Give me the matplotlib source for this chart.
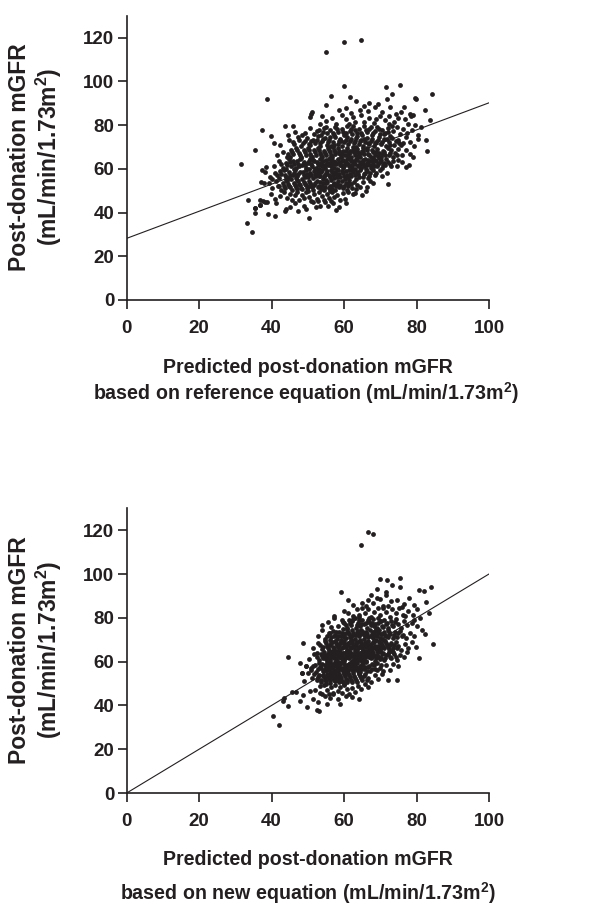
import matplotlib
matplotlib.use('Agg')
import matplotlib.pyplot as plt

# measured vs predicted post-donation mGFR, reference equation (top panel)
top_sparse = [
    (31.5, 62.0), (33.1, 35.4), (34.5, 30.9), (33.5, 45.7), (35.5, 68.6), (38.7, 91.8),
    (37.3, 77.9), (39.8, 75.0), (40.7, 72.0), (43.7, 79.7), (46.0, 79.6), (44.6, 75.3),
    (55.1, 113.4), (59.9, 118.0), (64.6, 119.1), (59.9, 97.9), (56.3, 93.5), (61.5, 93.0),
    (71.6, 97.3), (75.3, 98.2), (79.6, 92.6), (79.8, 91.9), (84.4, 94.2), (82.4, 87.1),
    (83.7, 82.3), (82.6, 73.2), (82.9, 68.3), (78.0, 61.9), (72.1, 53.2), (57.7, 41.0),
    (50.2, 37.5), (40.9, 38.3), (39.0, 39.3), (35.5, 39.6), (43.7, 40.9), (35.3, 42.0),
    (36.8, 43.6), (37.5, 45.2), (38.2, 45.0), (73.3, 94.2), (71.8, 91.9), (51.1, 86.0),
    (50.7, 83.6), (55.0, 89.3),
]
top_upper = [
    (58.5, 86.9), (60.6, 87.6), (62.0, 85.6), (64.3, 86.8), (66.5, 86.4), (67.0, 90.3),
    (68.6, 88.3), (69.4, 89.5), (70.5, 86.1), (72.7, 88.4), (74.2, 85.3), (76.5, 88.3),
    (78.1, 85.0), (79.1, 84.6), (75.6, 85.9), (63.4, 91.0), (65.5, 88.9),
    (50.9, 84.9), (53.4, 80.4), (55.1, 82.1), (56.7, 83.2), (57.9, 80.3), (59.3, 84.6),
    (60.6, 82.8), (61.3, 80.6), (63.1, 81.5), (64.8, 84.4), (65.6, 81.6), (66.9, 83.1),
    (68.2, 80.9), (68.8, 83.0), (69.9, 84.1), (71.2, 82.4), (72.4, 84.3), (72.3, 80.3),
    (73.9, 81.6), (74.8, 83.1), (76.7, 82.7), (77.7, 80.5), (78.5, 84.3), (79.6, 80.0),
    (62.4, 83.6), (54.0, 84.1),
    (48.3, 75.5), (49.2, 76.3), (50.5, 78.6), (51.6, 75.9), (52.6, 77.2), (53.5, 75.4),
    (54.5, 78.7), (55.4, 76.4), (56.1, 77.8), (57.1, 75.6), (57.5, 79.1), (58.4, 76.9),
    (59.3, 78.2), (60.1, 75.4), (60.8, 79.4), (61.5, 77.3), (62.1, 75.9), (62.6, 79.6),
    (63.5, 76.2), (64.2, 78.0), (64.9, 75.3), (65.5, 79.5), (66.2, 76.8), (67.0, 78.4),
    (67.6, 75.7), (68.5, 77.4), (69.2, 79.3), (69.9, 75.9), (70.6, 77.8), (71.4, 76.3),
    (72.2, 78.9), (72.8, 75.2), (73.6, 77.3), (74.6, 79.1), (75.4, 76.0), (76.2, 78.2),
    (77.5, 76.4), (78.8, 77.7), (80.3, 75.6), (81.2, 79.0), (46.4, 77.0),
]
top_core = [
    (42.3, 70.8), (44.9, 73.1), (46.3, 71.2), (47.4, 74.5), (48.1, 70.4), (49.1, 72.8),
    (49.9, 74.2), (50.6, 70.9), (51.3, 73.4), (52.0, 71.6), (52.7, 74.8), (53.3, 70.3),
    (53.8, 72.6), (54.6, 74.0), (55.2, 71.1), (55.9, 73.3), (56.5, 70.4), (57.0, 72.4),
    (57.6, 74.6), (58.2, 71.4), (58.9, 73.6), (59.5, 70.6), (60.1, 72.3), (60.7, 74.4),
    (61.2, 71.3), (61.9, 73.5), (62.4, 70.2), (63.0, 72.7), (63.6, 74.8), (64.1, 71.5),
    (64.7, 73.4), (65.3, 70.6), (65.9, 72.4), (66.4, 74.3), (67.0, 71.2), (67.7, 73.7),
    (68.3, 70.5), (68.9, 72.5), (69.6, 74.6), (70.2, 71.4), (70.9, 73.5), (71.6, 70.3),
    (72.3, 72.4), (73.1, 74.1), (73.9, 71.1), (74.8, 73.2), (75.8, 70.7), (76.4, 71.6),
    (77.2, 74.6), (78.3, 72.1), (79.4, 70.4), (80.5, 73.8),
    (41.6, 66.1), (43.2, 67.9), (44.2, 65.5), (45.3, 68.7), (46.0, 66.6), (46.8, 69.5),
    (47.5, 67.2), (48.2, 65.3), (48.8, 68.4), (49.4, 66.5), (50.0, 69.7), (50.6, 67.0),
    (51.1, 65.2), (51.7, 68.6), (52.3, 66.3), (52.8, 69.4), (53.4, 67.1), (53.9, 65.6),
    (54.5, 68.3), (55.0, 66.4), (55.5, 69.6), (56.0, 67.5), (56.6, 65.4), (57.1, 68.8),
    (57.6, 66.6), (58.2, 69.3), (58.7, 67.3), (59.2, 65.3), (59.8, 68.1), (60.3, 66.4),
    (60.8, 69.6), (61.3, 67.2), (61.9, 65.5), (62.4, 68.7), (62.9, 66.3), (63.5, 69.2),
    (64.0, 67.4), (64.5, 65.2), (65.1, 68.3), (65.6, 66.6), (66.2, 69.5), (66.7, 67.0),
    (67.3, 65.4), (67.8, 68.6), (68.4, 66.5), (69.0, 69.1), (69.6, 67.3), (70.2, 65.6),
    (70.8, 68.2), (71.4, 66.4), (72.0, 69.4), (72.7, 67.2), (73.5, 65.5), (74.1, 67.1),
    (74.9, 69.0), (75.9, 66.3), (77.0, 68.4), (78.2, 66.8), (79.0, 65.3), (45.0, 65.2),
    (56.9, 70.0), (63.2, 70.0), (68.1, 65.0),
    (38.5, 61.0), (40.7, 61.4), (42.0, 63.4), (43.1, 60.6), (43.9, 62.6), (44.7, 64.4),
    (45.4, 61.3), (46.0, 63.5), (46.7, 60.4), (47.3, 62.4), (47.9, 64.6), (48.5, 61.6),
    (49.0, 63.3), (49.6, 60.5), (50.1, 62.8), (50.7, 64.7), (51.2, 61.2), (51.7, 63.6),
    (52.2, 60.3), (52.8, 62.2), (53.3, 64.3), (53.8, 61.5), (54.3, 63.4), (54.8, 60.6),
    (55.3, 62.6), (55.8, 64.5), (56.3, 61.3), (56.8, 63.2), (57.3, 60.2), (57.8, 62.4),
    (58.3, 64.6), (58.8, 61.6), (59.3, 63.5), (59.8, 60.4), (60.3, 62.3), (60.8, 64.3),
    (61.3, 61.1), (61.8, 63.6), (62.3, 60.5), (62.8, 62.5), (63.3, 64.5), (63.8, 61.4),
    (64.3, 63.1), (64.8, 60.3), (65.3, 62.7), (65.9, 64.6), (66.4, 61.6), (66.9, 63.4),
    (67.5, 60.5), (68.0, 62.3), (68.6, 64.2), (69.2, 61.2), (69.8, 63.3), (70.4, 60.6),
    (71.0, 62.6), (71.3, 61.7), (71.7, 64.7), (72.6, 62.0), (73.5, 63.8), (74.7, 61.4),
    (75.0, 64.0), (76.1, 62.9), (77.2, 60.7), (44.0, 60.0), (50.4, 60.0), (56.0, 65.0),
    (61.0, 65.0), (66.0, 60.0), (69.6, 64.9), (48.0, 64.9), (53.0, 60.0),
]
top_dense = [
    (53.0, 77.9), (54.2, 76.9), (55.0, 79.3), (56.9, 76.2), (58.0, 78.1), (59.6, 77.0),
    (60.5, 76.3), (62.0, 78.4), (63.0, 77.6), (64.6, 76.6), (66.0, 77.9), (67.3, 79.1),
    (68.0, 76.3), (69.6, 78.1), (71.0, 75.8), (72.0, 77.0), (73.2, 79.5),
    (46.0, 72.4), (47.5, 73.0), (48.6, 71.9), (50.3, 71.5), (51.0, 72.9), (52.4, 73.0),
    (53.4, 71.8), (54.1, 73.7), (55.6, 72.2), (56.2, 74.4), (57.3, 71.0), (58.5, 72.6),
    (59.2, 72.9), (60.4, 73.4), (61.6, 72.6), (62.7, 71.6), (63.3, 73.9), (64.4, 72.6),
    (65.6, 73.8), (66.6, 72.0), (67.3, 72.9), (68.6, 71.9), (69.3, 73.4), (70.6, 72.4),
    (71.9, 73.6), (72.8, 71.0), (74.2, 72.6), (75.2, 72.0),
    (44.5, 66.9), (45.7, 67.8), (47.1, 68.6), (47.9, 66.2), (49.1, 67.6), (50.3, 68.4),
    (50.9, 66.0), (52.0, 67.6), (53.1, 68.6), (53.6, 66.2), (54.8, 67.2), (55.8, 68.4),
    (56.3, 66.5), (57.4, 67.7), (58.5, 68.2), (59.0, 66.6), (59.5, 67.0), (60.5, 68.1),
    (61.1, 66.2), (61.6, 68.3), (62.7, 67.6), (63.2, 67.9), (63.8, 66.0), (64.8, 67.3),
    (65.3, 69.4), (66.4, 68.4), (67.0, 66.2), (68.0, 67.6), (68.7, 67.8), (69.3, 66.0),
    (70.5, 67.0), (71.1, 67.9), (72.3, 66.4), (73.0, 68.4), (74.5, 66.1),
    (42.6, 62.0), (44.3, 61.6), (45.0, 63.0), (46.3, 62.2), (47.0, 63.4), (47.6, 61.2),
    (48.8, 62.6), (49.3, 61.8), (50.4, 63.6), (51.0, 62.0), (51.5, 64.1), (52.5, 63.3),
    (53.0, 61.7), (53.6, 62.8), (54.6, 61.9), (55.0, 64.0), (55.6, 61.6), (56.0, 62.6),
    (56.6, 64.0), (57.1, 62.0), (57.6, 63.3), (58.6, 62.9), (59.1, 61.8), (59.6, 64.2),
    (60.0, 61.3), (60.6, 63.2), (61.1, 62.3), (61.6, 64.7), (62.1, 61.7), (62.6, 63.6),
    (63.1, 62.4), (63.6, 64.0), (64.1, 61.9), (64.6, 62.4), (65.1, 64.0), (65.6, 61.5),
    (66.2, 62.6), (66.7, 64.2), (67.2, 61.8), (67.8, 63.5), (68.3, 61.4), (68.9, 63.4),
    (69.5, 62.3), (70.2, 64.0), (70.7, 61.7), (72.0, 63.2), (73.0, 61.4),
    (41.5, 57.0), (42.2, 58.8), (43.6, 57.4), (44.4, 55.6), (45.0, 57.3), (46.2, 58.0),
    (46.8, 55.9), (47.4, 57.5), (48.6, 58.7), (49.2, 56.3), (49.8, 57.8), (51.0, 57.4),
    (51.6, 59.1), (52.2, 56.6), (52.8, 58.0), (53.3, 56.6), (54.0, 59.3), (54.5, 56.5),
    (55.1, 58.3), (55.7, 57.0), (56.3, 59.4), (56.9, 57.0), (57.5, 58.4), (58.1, 56.1),
    (58.7, 57.8), (59.3, 59.1), (59.9, 56.9), (60.5, 58.8), (61.1, 56.2), (61.7, 57.8),
    (62.3, 59.4), (63.0, 57.3), (63.5, 58.6), (64.2, 56.4), (65.4, 57.6), (66.2, 58.9),
    (67.0, 56.6), (68.8, 58.2),
    (42.1, 52.0), (43.4, 52.2), (44.6, 53.2), (45.2, 51.6), (46.4, 52.5), (47.0, 50.8),
    (47.6, 53.2), (48.2, 51.4), (48.8, 54.0), (49.4, 52.4), (50.0, 51.8), (50.6, 53.6),
    (51.2, 51.5), (51.8, 52.6), (52.4, 54.4), (53.0, 52.3), (53.6, 50.9), (54.2, 53.3),
    (54.8, 51.8), (55.4, 54.2), (56.0, 52.0), (56.6, 51.0), (57.2, 53.6), (57.8, 52.0),
    (58.4, 54.6), (59.0, 52.6), (59.8, 51.3), (60.4, 53.6), (61.0, 52.0), (62.0, 53.2),
    (63.2, 51.0),
]
top_lower = [
    (37.4, 59.5), (38.2, 58.7), (39.6, 56.4), (41.0, 58.1), (41.9, 55.8), (42.6, 57.6),
    (43.3, 59.4), (44.0, 56.3), (44.7, 58.5), (45.3, 55.5), (45.9, 57.4), (46.5, 59.6),
    (47.1, 56.6), (47.7, 58.7), (48.3, 55.3), (48.9, 57.2), (49.5, 59.3), (50.1, 56.1),
    (50.7, 58.3), (51.3, 55.7), (51.9, 57.7), (52.5, 59.6), (53.0, 56.5), (53.6, 58.4),
    (54.2, 55.4), (54.8, 57.1), (55.4, 59.2), (56.0, 56.2), (56.6, 58.6), (57.2, 55.6),
    (57.8, 57.5), (58.4, 59.5), (59.0, 56.4), (59.6, 58.2), (60.2, 55.2), (60.8, 57.3),
    (61.4, 59.4), (62.0, 56.7), (62.6, 58.5), (63.2, 55.5), (63.8, 57.6), (64.5, 59.3),
    (65.1, 56.3), (65.8, 58.1), (66.5, 55.8), (67.2, 57.9), (68.0, 59.6), (68.5, 57.2),
    (69.9, 59.5), (70.6, 56.9), (71.8, 58.2), (40.0, 55.2), (46.2, 60.0), (52.0, 60.0),
    (58.0, 60.0), (63.0, 60.0), (55.0, 55.0), (61.3, 55.0), (47.0, 55.0),
    (37.1, 54.1), (38.0, 53.6), (39.4, 53.7), (40.2, 51.2), (41.1, 54.4), (41.8, 52.3),
    (42.5, 50.5), (43.1, 53.3), (43.7, 51.4), (44.3, 54.6), (44.9, 52.2), (45.5, 50.4),
    (46.1, 53.5), (46.7, 51.6), (47.3, 54.3), (47.9, 52.4), (48.5, 50.6), (49.1, 53.1),
    (49.7, 51.1), (50.3, 54.5), (50.9, 52.6), (51.5, 50.3), (52.1, 53.7), (52.7, 51.5),
    (53.3, 54.2), (53.9, 52.0), (54.5, 50.5), (55.1, 53.4), (55.7, 51.3), (56.3, 54.7),
    (56.9, 52.5), (57.5, 50.2), (58.1, 53.2), (58.7, 51.6), (59.3, 54.3), (60.0, 52.3),
    (60.7, 50.5), (61.4, 53.6), (62.1, 51.4), (62.8, 54.1), (63.6, 52.5), (64.4, 51.8),
    (65.2, 53.9), (66.2, 51.8), (67.1, 54.6), (68.1, 53.7), (44.0, 55.0), (50.0, 50.0),
    (56.0, 50.0),
    (36.8, 45.7), (38.6, 45.0), (41.0, 46.2), (42.3, 47.6), (43.4, 49.4), (44.2, 46.8),
    (45.0, 48.7), (45.7, 45.6), (46.4, 47.9), (47.1, 49.6), (47.6, 45.7), (48.3, 48.1),
    (49.0, 46.5), (49.6, 49.3), (50.3, 47.2), (51.0, 45.3), (51.7, 48.6), (52.4, 46.4),
    (53.1, 49.5), (53.8, 47.6), (54.5, 45.8), (55.2, 48.4), (55.9, 46.7), (56.6, 49.4),
    (57.3, 47.3), (58.1, 48.0), (58.8, 45.6), (59.6, 48.9), (60.3, 46.2), (61.2, 49.2),
    (62.4, 48.3), (63.0, 49.1), (64.9, 48.0), (66.1, 49.7), (39.8, 48.6), (52.7, 45.2),
    (56.5, 45.1),
    (35.3, 42.0), (36.8, 43.6), (41.1, 44.2), (43.9, 41.5), (45.1, 42.7), (46.5, 44.4),
    (48.8, 43.1), (49.5, 41.5), (51.5, 45.0), (52.3, 42.6), (53.4, 43.1), (54.6, 44.6),
    (55.5, 43.1), (57.0, 44.2), (58.6, 42.4), (60.5, 44.3), (47.3, 40.5),
]

# measured vs predicted post-donation mGFR, new equation (bottom panel)
bottom_sparse = [
    (40.5, 35.3), (42.1, 31.1), (43.1, 41.9), (43.5, 43.2), (44.4, 39.6), (45.6, 46.0),
    (46.7, 46.0), (44.5, 62.1), (48.6, 68.5), (47.8, 59.4), (49.6, 58.0), (48.3, 54.8),
    (49.0, 51.0), (49.7, 39.3), (47.8, 41.9), (48.7, 44.9), (52.4, 38.1), (53.1, 37.6),
    (59.0, 40.8), (64.1, 43.1), (59.1, 91.7), (61.2, 87.9), (64.6, 113.3), (66.7, 119.1),
    (68.0, 118.2), (69.9, 97.8), (71.9, 97.3), (75.4, 98.2), (73.2, 94.9), (75.3, 94.1),
    (69.0, 93.2), (71.6, 91.7), (80.8, 92.9), (82.1, 92.1), (84.0, 94.1), (82.5, 87.3),
    (83.4, 82.2), (81.0, 79.9), (82.4, 72.8), (84.6, 68.2), (81.6, 74.6), (80.8, 61.7),
    (79.9, 66.7), (78.7, 68.8), (78.0, 89.1), (57.3, 79.8), (74.5, 51.8), (72.2, 51.8),
    (50.5, 46.8), (51.5, 43.0),
]
bottom_upper = [
    (62.6, 85.8), (64.9, 86.8), (66.1, 85.3), (66.7, 88.3), (67.3, 90.2), (68.1, 86.8),
    (69.0, 89.1), (70.0, 88.6), (70.8, 85.5), (72.2, 85.3), (73.0, 87.5), (74.5, 88.3),
    (75.9, 85.0), (76.6, 86.5), (79.3, 85.7), (71.5, 90.5),
    (57.2, 80.7), (59.9, 83.0), (61.2, 82.2), (62.6, 80.7), (63.5, 83.8), (64.2, 81.5),
    (65.0, 84.5), (65.9, 82.0), (66.6, 83.8), (67.5, 80.5), (68.3, 82.6), (69.3, 84.6),
    (70.0, 81.3), (70.8, 84.5), (71.6, 82.7), (72.6, 80.4), (73.2, 83.8), (74.3, 82.0),
    (75.1, 84.4), (76.2, 81.1), (76.8, 80.7), (77.6, 83.0), (78.9, 81.5), (80.2, 84.0),
    (64.1, 80.2), (69.5, 80.1),
    (54.0, 76.6), (55.5, 78.2), (56.4, 75.8), (58.4, 76.2), (59.3, 79.2), (60.1, 77.4),
    (60.8, 75.5), (61.4, 78.9), (62.0, 76.6), (62.6, 79.5), (63.2, 75.3), (63.8, 77.8),
    (64.4, 76.1), (65.0, 79.2), (65.6, 77.0), (66.2, 75.4), (66.8, 78.3), (67.4, 76.5),
    (68.0, 79.6), (68.6, 77.2), (69.2, 75.5), (69.8, 78.5), (70.4, 76.4), (71.0, 79.1),
    (71.6, 77.1), (72.2, 75.3), (72.9, 78.4), (73.6, 76.4), (74.3, 79.4), (75.0, 77.1),
    (75.8, 75.5), (76.6, 78.4), (77.5, 76.6), (78.7, 77.7), (80.0, 76.1), (79.2, 79.2),
    (67.0, 80.0), (62.9, 80.0),
]
bottom_core = [
    (52.7, 71.8), (54.0, 74.6), (54.7, 70.5), (55.7, 73.1), (56.4, 71.2), (57.0, 74.2),
    (57.6, 72.3), (58.1, 70.4), (58.6, 73.6), (59.1, 71.6), (59.6, 74.7), (60.1, 72.5),
    (60.6, 70.6), (61.1, 73.5), (61.6, 71.4), (62.1, 74.4), (62.6, 72.2), (63.1, 70.3),
    (63.6, 73.7), (64.1, 71.7), (64.6, 74.6), (65.1, 72.6), (65.6, 70.5), (66.1, 73.4),
    (66.6, 71.3), (67.1, 74.3), (67.6, 72.4), (68.1, 70.7), (68.6, 73.8), (69.1, 71.8),
    (69.6, 74.5), (70.1, 72.5), (70.6, 70.4), (71.1, 73.6), (71.6, 71.6), (72.2, 74.4),
    (72.8, 72.6), (73.4, 70.8), (74.0, 73.5), (74.7, 71.4), (75.4, 74.2), (76.2, 72.3),
    (77.1, 70.6), (78.2, 73.2), (79.4, 71.5), (64.4, 70.0), (60.9, 75.0), (68.9, 75.0),
    (56.0, 70.0),
    (51.5, 66.3), (52.9, 68.4), (53.8, 65.6), (54.6, 69.2), (55.3, 67.1), (55.9, 65.3),
    (56.5, 68.6), (57.0, 66.6), (57.5, 69.5), (58.0, 67.4), (58.5, 65.4), (59.0, 68.3),
    (59.4, 66.2), (59.9, 69.6), (60.3, 67.6), (60.8, 65.3), (61.2, 68.7), (61.7, 66.5),
    (62.1, 69.3), (62.5, 67.2), (63.0, 65.5), (63.4, 68.5), (63.9, 66.4), (64.3, 69.6),
    (64.8, 67.4), (65.2, 65.2), (65.7, 68.2), (66.1, 66.7), (66.6, 69.4), (67.0, 67.6),
    (67.5, 65.6), (67.9, 68.8), (68.4, 66.3), (68.8, 69.7), (69.3, 67.2), (69.8, 65.4),
    (70.3, 68.5), (70.8, 66.6), (71.3, 69.3), (71.8, 67.4), (72.4, 65.7), (73.0, 68.4),
    (73.6, 66.3), (74.3, 69.1), (75.0, 67.1), (75.8, 65.5), (76.7, 68.0), (77.6, 66.2),
    (59.2, 70.0), (62.0, 70.0), (66.0, 65.0), (69.0, 65.0), (63.5, 65.0), (57.8, 65.0),
    (73.3, 65.0), (71.0, 70.0),
    (50.4, 61.3), (51.8, 63.5), (52.4, 64.0), (53.2, 60.8), (53.9, 62.7), (54.5, 64.5),
    (55.0, 61.4), (55.5, 63.3), (56.0, 60.3), (56.4, 62.5), (56.8, 64.6), (57.3, 61.6),
    (57.7, 63.4), (58.1, 60.5), (58.5, 62.3), (58.9, 64.4), (59.3, 61.2), (59.7, 63.7),
    (60.1, 60.4), (60.5, 62.6), (60.9, 64.7), (61.3, 61.5), (61.7, 63.3), (62.1, 60.2),
    (62.5, 62.4), (62.9, 64.5), (63.3, 61.3), (63.7, 63.5), (64.1, 60.6), (64.5, 62.5),
    (64.9, 64.3), (65.3, 61.1), (65.7, 63.4), (66.1, 60.5), (66.5, 62.7), (67.0, 64.6),
    (67.4, 61.6), (67.9, 63.2), (68.4, 60.3), (68.9, 62.6), (69.4, 64.4), (69.9, 61.4),
    (70.4, 63.6), (71.0, 60.7), (71.6, 62.9), (72.3, 64.3), (73.0, 61.5), (73.8, 63.4),
    (74.6, 60.8), (75.4, 63.2), (76.5, 61.9), (77.4, 64.5), (57.0, 65.0), (61.0, 65.0),
    (65.0, 60.0), (59.5, 60.0), (63.0, 60.0), (67.8, 65.0), (55.3, 60.0), (70.0, 65.0),
]
bottom_dense = [
    (59.6, 77.9), (60.5, 76.6), (61.6, 77.5), (62.3, 78.6), (63.5, 76.8), (64.1, 78.9),
    (64.8, 77.0), (66.0, 77.6), (66.5, 79.0), (67.6, 77.8), (68.3, 76.1), (69.4, 77.4),
    (70.1, 78.6), (70.7, 75.9), (71.9, 77.6), (73.2, 76.9), (74.0, 78.1),
    (55.3, 71.6), (56.0, 72.9), (57.2, 71.5), (57.9, 73.3), (58.4, 71.8), (59.3, 72.9),
    (59.9, 71.2), (60.4, 73.1), (61.3, 72.4), (61.9, 71.3), (62.4, 73.0), (63.3, 72.0),
    (63.9, 74.2), (64.4, 72.4), (65.3, 73.6), (65.9, 71.6), (66.4, 72.6), (67.3, 71.7),
    (67.9, 73.4), (68.4, 72.0), (69.3, 73.1), (69.9, 70.9), (70.4, 72.6), (71.4, 72.3),
    (72.0, 71.2), (72.5, 73.4), (73.7, 72.0), (74.8, 73.0), (75.9, 71.6),
    (53.3, 67.4), (54.2, 66.6), (55.0, 68.3), (55.6, 66.1), (56.2, 67.4), (56.8, 69.0),
    (57.3, 66.3), (57.8, 68.4), (58.2, 66.6), (58.7, 67.8), (59.2, 68.9), (59.7, 66.5),
    (60.1, 68.2), (60.6, 66.6), (61.0, 67.9), (61.5, 69.0), (61.9, 66.2), (62.3, 68.3),
    (62.8, 66.6), (63.2, 67.7), (63.7, 69.0), (64.1, 66.6), (64.6, 68.3), (65.0, 66.3),
    (65.5, 67.4), (65.9, 69.0), (66.4, 67.6), (66.8, 65.9), (67.3, 68.2), (67.7, 66.8),
    (68.2, 68.9), (68.6, 67.0), (69.1, 65.6), (69.6, 68.8), (70.0, 66.3), (70.6, 67.6),
    (71.1, 66.1), (71.6, 68.4), (72.2, 66.6), (72.7, 67.6), (73.8, 67.6), (74.6, 66.0),
    (52.6, 62.0), (53.6, 63.6), (54.2, 61.6), (54.8, 63.0), (55.3, 62.0), (55.8, 64.2),
    (56.2, 61.4), (56.6, 63.3), (57.0, 62.4), (57.5, 64.2), (57.9, 61.6), (58.3, 63.4),
    (58.7, 61.9), (59.1, 63.2), (59.5, 62.2), (59.9, 64.0), (60.3, 61.6), (60.7, 63.6),
    (61.1, 62.0), (61.5, 64.2), (61.9, 62.4), (62.3, 63.6), (62.7, 61.4), (63.1, 62.8),
    (63.5, 64.0), (63.9, 61.9), (64.3, 63.4), (64.7, 61.6), (65.1, 62.8), (65.5, 64.4),
    (65.9, 62.2), (66.3, 63.7), (66.8, 61.9), (67.2, 63.2), (67.7, 62.2), (68.1, 64.0),
    (68.7, 61.8), (69.2, 63.0), (69.7, 62.2), (70.2, 61.7), (70.7, 64.1), (71.3, 61.7),
    (72.0, 63.3), (72.6, 61.9), (73.4, 64.4), (74.2, 62.0),
    (51.0, 57.2), (52.0, 58.4), (52.7, 56.4), (53.3, 57.7), (54.0, 58.9), (54.4, 56.3),
    (54.9, 57.7), (55.4, 56.0), (55.8, 58.5), (56.2, 56.8), (56.6, 59.0), (57.0, 57.6),
    (57.4, 55.9), (57.8, 58.4), (58.2, 56.5), (58.6, 57.6), (59.0, 59.5), (59.4, 57.2),
    (59.8, 55.8), (60.2, 58.6), (60.6, 56.6), (61.0, 57.8), (61.4, 59.0), (61.8, 56.4),
    (62.2, 58.0), (62.6, 56.8), (63.0, 59.2), (63.4, 57.6), (63.8, 55.8), (64.3, 58.2),
    (64.8, 56.6), (65.3, 59.2), (65.8, 57.4), (66.3, 55.9), (67.0, 58.0), (67.6, 56.6),
    (68.3, 58.4), (69.0, 56.0), (70.3, 58.6),
    (51.8, 54.2), (52.9, 52.8), (53.5, 51.8), (54.1, 54.0), (54.6, 52.5), (55.1, 51.1),
    (55.6, 53.3), (56.0, 51.8), (56.5, 54.4), (56.9, 52.7), (57.4, 51.2), (57.8, 53.6),
    (58.3, 51.6), (58.7, 54.4), (59.2, 52.6), (59.7, 50.6), (60.2, 53.4), (60.7, 51.8),
    (61.2, 54.6), (61.7, 52.8), (62.2, 50.9), (62.8, 53.6), (63.4, 51.6), (64.0, 54.3),
    (64.6, 52.6), (65.4, 53.2), (66.3, 51.4),
]
bottom_lower = [
    (49.6, 58.0), (50.8, 56.2), (51.5, 57.9), (52.3, 55.4), (53.0, 59.3), (53.6, 57.1),
    (54.1, 55.5), (54.6, 58.6), (55.1, 56.5), (55.6, 59.5), (56.0, 57.4), (56.4, 55.3),
    (56.8, 58.3), (57.2, 56.2), (57.6, 59.6), (58.0, 57.5), (58.4, 55.6), (58.8, 58.7),
    (59.2, 56.6), (59.6, 59.4), (60.0, 57.3), (60.4, 55.2), (60.8, 58.4), (61.2, 56.3),
    (61.6, 59.5), (62.0, 57.6), (62.4, 55.5), (62.8, 58.6), (63.2, 56.4), (63.6, 59.3),
    (64.0, 57.2), (64.5, 55.4), (65.0, 58.5), (65.5, 56.6), (66.0, 59.6), (66.6, 57.5),
    (67.2, 55.7), (67.8, 58.8), (68.5, 56.4), (69.2, 59.2), (70.0, 57.3), (70.8, 55.6),
    (71.6, 58.6), (72.7, 56.3), (73.6, 59.1), (75.0, 57.9), (58.2, 60.0), (62.3, 60.0),
    (56.0, 55.0), (60.0, 55.0), (64.0, 55.0),
    (48.3, 54.8), (50.1, 54.8), (51.2, 52.6), (52.4, 51.8), (53.1, 54.1), (53.7, 50.5),
    (54.3, 53.2), (54.8, 51.4), (55.3, 54.5), (55.8, 52.3), (56.2, 50.4), (56.7, 53.6),
    (57.1, 51.7), (57.6, 54.7), (58.0, 52.5), (58.5, 50.6), (58.9, 53.4), (59.4, 51.3),
    (59.9, 54.3), (60.4, 52.2), (60.9, 50.5), (61.4, 53.7), (61.9, 51.6), (62.5, 54.6),
    (63.1, 52.4), (63.7, 50.8), (64.3, 53.5), (65.0, 51.7), (65.8, 54.2), (66.6, 52.6),
    (67.5, 50.9), (68.4, 53.8), (69.5, 52.1), (70.6, 54.4), (55.0, 50.0), (60.0, 50.0),
    (57.0, 55.0),
    (52.0, 47.2), (53.4, 48.7), (53.4, 45.7), (54.5, 49.5), (55.2, 47.0), (55.9, 45.4),
    (56.5, 48.3), (57.0, 45.7), (57.6, 49.2), (58.2, 46.6), (58.8, 48.5), (59.4, 45.6),
    (60.0, 49.4), (60.7, 47.5), (61.4, 45.3), (62.1, 48.1), (62.9, 46.3), (63.8, 49.0),
    (64.8, 47.4), (65.7, 49.6), (66.6, 48.3), (54.0, 45.1),
    (54.7, 44.2), (56.1, 43.4), (57.0, 45.0), (52.9, 41.5), (55.3, 40.6), (58.2, 42.8),
    (60.4, 44.1), (62.3, 43.7),
]

top_fit = [28.2, 0.62]      # intercept, slope of the regression line
bottom_fit = [0.0, 1.0]     # line of identity
x_ticks = [0, 20, 40, 60, 80, 100]
y_ticks = [0, 20, 40, 60, 80, 100, 120]

y_title = ['Post-donation mGFR', r'(mL/min/1.73m$^{2}$)']
top_xtitle = ['Predicted post-donation mGFR',
              r'based on reference equation (mL/min/1.73m$^{2}$)']
bottom_xtitle = ['Predicted post-donation mGFR',
                 r'based on new equation (mL/min/1.73m$^{2}$)']

plt.rcParams['font.family'] = ['Liberation Sans', 'DejaVu Sans']
plt.rcParams['font.weight'] = 'bold'
plt.rcParams['mathtext.fontset'] = 'custom'
plt.rcParams['mathtext.rm'] = 'Liberation Sans:bold'
plt.rcParams['mathtext.bf'] = 'Liberation Sans:bold'
plt.rcParams['mathtext.default'] = 'bf'

INK = '#231f20'
W, H = 616, 906
fig = plt.figure(figsize=(W / 100, H / 100), dpi=100)
ax_top = fig.add_axes([126.7 / W, 1 - 300 / H, 362.3 / W, 284.2 / H])
ax_bot = fig.add_axes([126.7 / W, 1 - 793 / H, 362.3 / W, 284.7 / H])


def draw_panel(ax, groups, fit):
    xs = [p[0] for g in groups for p in g]
    ys = [p[1] for g in groups for p in g]
    ax.scatter(xs, ys, s=12, c=INK, linewidths=0, zorder=3)
    ends = [x_ticks[0], x_ticks[-1]]
    ax.plot(ends, [fit[0] + fit[1] * v for v in ends], color=INK, lw=0.8, zorder=2)
    ax.set_xlim(0, 100)
    ax.set_ylim(0, 130)
    ax.set_xticks(x_ticks)
    ax.set_yticks(y_ticks)
    for s in ['top', 'right']:
        ax.spines[s].set_visible(False)
    for s in ['left', 'bottom']:
        ax.spines[s].set_linewidth(1.2)
        ax.spines[s].set_color(INK)
    ax.tick_params(direction='out', length=6.8, width=1.2, color=INK,
                   labelsize=13.5, labelcolor=INK)
    ax.tick_params(axis='x', pad=7.5)
    ax.tick_params(axis='y', pad=2)
    for lab in ax.get_xticklabels() + ax.get_yticklabels():
        lab.set_fontweight('bold')


draw_panel(ax_top, [top_sparse, top_upper, top_core, top_dense, top_lower], top_fit)
draw_panel(ax_bot, [bottom_sparse, bottom_upper, bottom_core, bottom_dense, bottom_lower],
           bottom_fit)


def label(x, y, txt, **kw):
    fig.text(x / W, 1 - y / H, txt, color=INK, fontweight='bold', **kw)


# x titles
label(307.7, 373.3, top_xtitle[0], fontsize=14.1, ha='center', va='baseline')
label(306.0, 399.3, top_xtitle[1], fontsize=14.1, ha='center', va='baseline')
label(307.7, 865.0, bottom_xtitle[0], fontsize=14.1, ha='center', va='baseline')
label(307.7, 899.7, bottom_xtitle[1], fontsize=14.1, ha='center', va='baseline')

# y titles
for yc in [157, 650]:
    label(20, yc, y_title[0], fontsize=16.5, rotation=90, ha='center', va='center')
    label(49, yc, y_title[1], fontsize=16.5, rotation=90, ha='center', va='center')

fig.savefig('out.png', dpi=100)
